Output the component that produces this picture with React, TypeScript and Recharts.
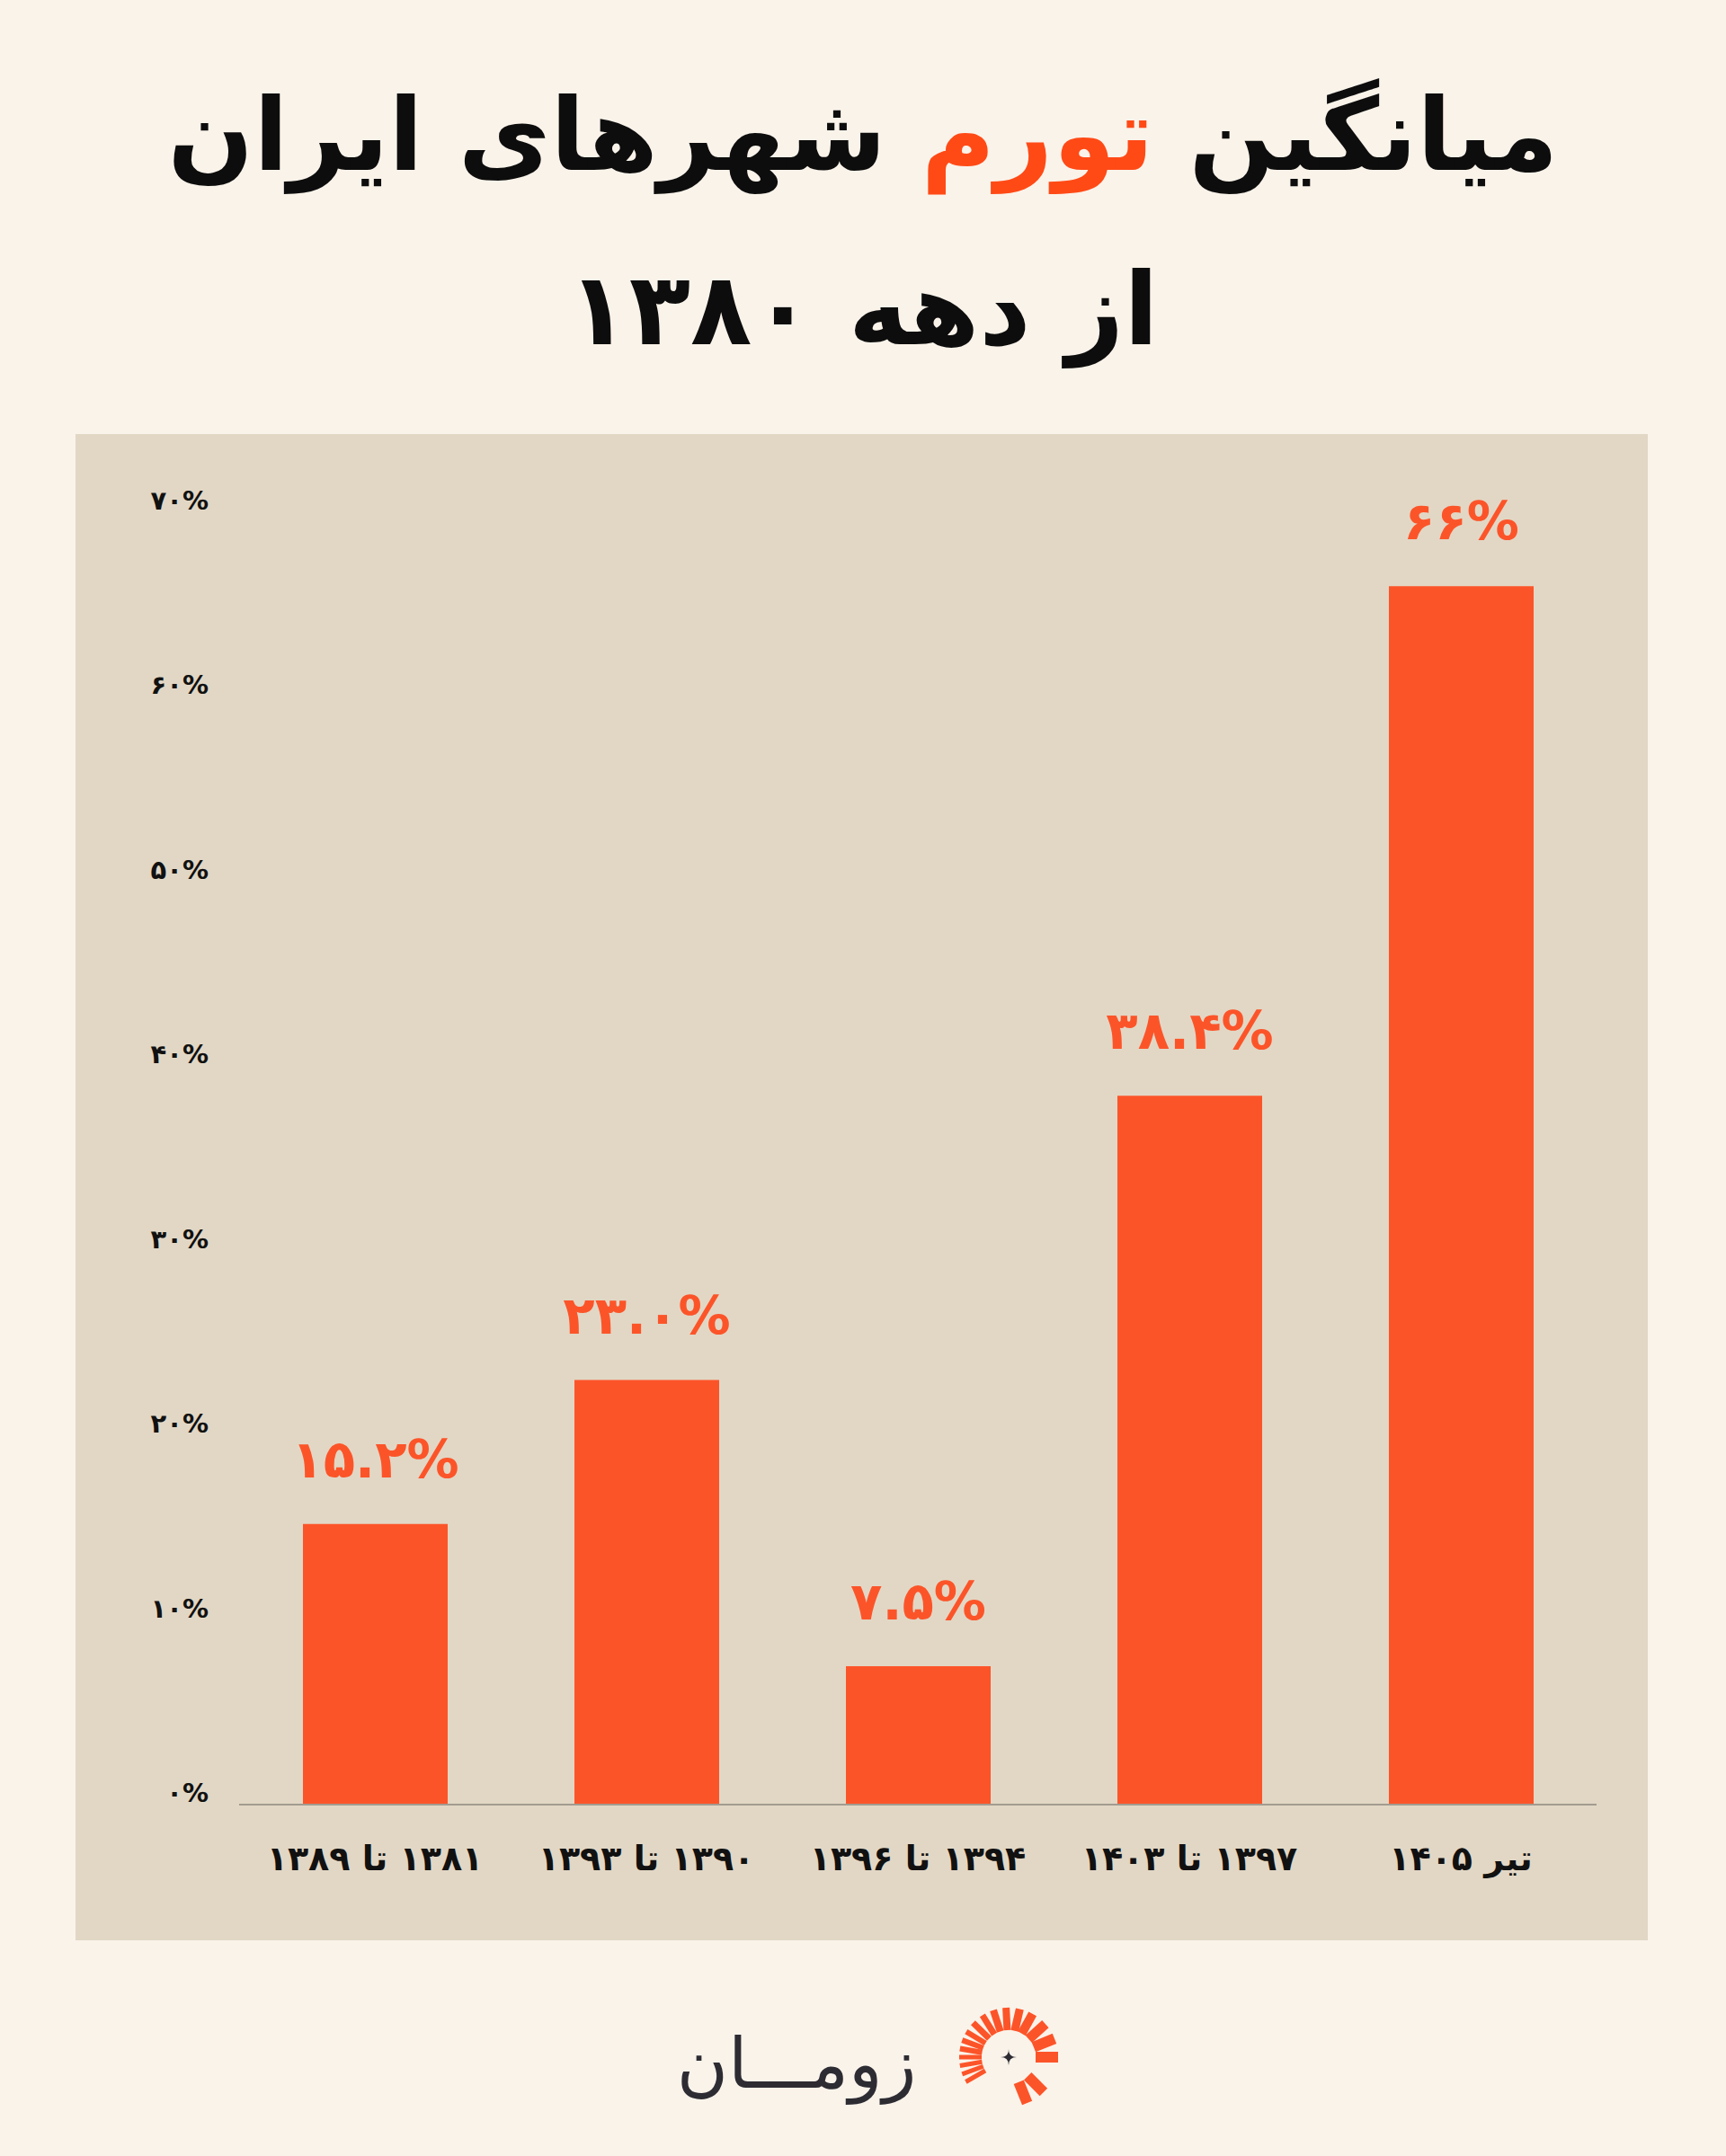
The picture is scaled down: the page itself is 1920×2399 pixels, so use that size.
import React from 'react';
import { BarChart, Bar, XAxis, YAxis, LabelList } from 'recharts';

const categories = ['۱۳۸۱ تا ۱۳۸۹', '۱۳۹۰ تا ۱۳۹۳', '۱۳۹۴ تا ۱۳۹۶', '۱۳۹۷ تا ۱۴۰۳', 'تیر ۱۴۰۵'];
const inflation = [15.2, 23.0, 7.5, 38.4, 66];
const valueLabels = ['۱۵.۲%', '۲۳.۰%', '۷.۵%', '۳۸.۴%', '۶۶%'];
const yTicks = [0, 10, 20, 30, 40, 50, 60, 70];
const yTickLabels = ['۰%', '۱۰%', '۲۰%', '۳۰%', '۴۰%', '۵۰%', '۶۰%', '۷۰%'];

const data = categories.map((c, i) => ({ category: c, value: inflation[i], label: valueLabels[i] }));

const FONT = '"DejaVu Sans", sans-serif';
const BAR = '#FC5429';
const PANEL = '#E2D7C5';
const PAGE = '#FAF3EA';

const YTick = (props: any) => {
  const { y, payload } = props;
  const idx = yTicks.indexOf(payload.value);
  return (
    <text x={232} y={y - 13} textAnchor="end" dominantBaseline="central" fontFamily={FONT} fontWeight={700} fontSize={29} fill="#111">
      {yTickLabels[idx]}
    </text>
  );
};

const XTick = (props: any) => {
  const { x, y, payload } = props;
  return (
    <text x={x} y={y + 52} textAnchor="middle" dominantBaseline="central" direction="rtl" style={{ direction: 'rtl', unicodeBidi: 'plaintext' } as any} fontFamily={FONT} fontWeight={700} fontSize={38} fill="#111">
      {payload.value}
    </text>
  );
};

const ValueLabel = (props: any) => {
  const { x, y, width, value } = props;
  return (
    <text x={x + width / 2} y={y - 72} textAnchor="middle" dominantBaseline="central" fontFamily={FONT} fontWeight={700} fontSize={58} fill={BAR}>
      {value}
    </text>
  );
};

const rays: { a: number; w: number }[] = [
  { a: 150, w: 5 }, { a: 160, w: 5 }, { a: 170, w: 5 }, { a: 180, w: 5 }, { a: 190, w: 6 }, { a: 200, w: 6 }, { a: 211, w: 6 },
  { a: 224, w: 7 }, { a: 238, w: 7 }, { a: 252, w: 8 }, { a: 267, w: 8 }, { a: 283, w: 9 }, { a: 299, w: 10 },
  { a: 318, w: 11 }, { a: 338, w: 12 }, { a: 0, w: 12 }, { a: 45, w: 12 }, { a: 68, w: 12 },
];

const Logo = () => {
  const cx = 1122;
  const cy = 2289;
  return (
    <svg width={1920} height={2399} style={{ position: 'absolute', left: 0, top: 0, pointerEvents: 'none' }}>
      <text x={886} y={2296} textAnchor="middle" dominantBaseline="central" fontFamily={FONT} fontSize={78} fill="#2D2C33" style={{ direction: 'rtl' } as any}>
        زومـــان
      </text>
      {rays.map((r, i) => {
        const t = (r.a * Math.PI) / 180;
        return (
          <line key={i} x1={cx + 30 * Math.cos(t)} y1={cy + 30 * Math.sin(t)} x2={cx + 55 * Math.cos(t)} y2={cy + 55 * Math.sin(t)} stroke={BAR} strokeWidth={r.w} />
        );
      })}
      <path d={`M${cx} ${cy - 9} Q${cx} ${cy} ${cx + 9} ${cy} Q${cx} ${cy} ${cx} ${cy + 9} Q${cx} ${cy} ${cx - 9} ${cy} Q${cx} ${cy} ${cx} ${cy - 9} Z`} fill="#2D2C33" />
    </svg>
  );
};

export default function App() {
  return (
    <div style={{ position: 'absolute', left: 0, top: 0, width: 1920, height: 2399, background: PAGE, overflow: 'hidden', fontFamily: FONT }}>
      <div style={{ position: 'absolute', left: 0, top: 80, width: 1920, height: 140, lineHeight: '140px', textAlign: 'center', direction: 'rtl', fontSize: 112, fontWeight: 900, color: '#0D0D0D', whiteSpace: 'nowrap' }}>
        میانگین <span style={{ color: '#FF4A16' }}>تورم</span> شهرهای ایران
      </div>
      <div style={{ position: 'absolute', left: 0, top: 274, width: 1920, height: 140, lineHeight: '140px', textAlign: 'center', direction: 'rtl', fontSize: 112, fontWeight: 900, color: '#0D0D0D', whiteSpace: 'nowrap' }}>
        از دهه ۱۳۸۰
      </div>
      <div style={{ position: 'absolute', left: 84, top: 483, width: 1749, height: 1676, background: PANEL }} />
      <div style={{ position: 'absolute', left: 0, top: 483 }}>
        <BarChart width={1920} height={1676} data={data} margin={{ top: 87, right: 144, bottom: 71, left: 166 }}>
          <XAxis dataKey="category" interval={0} height={80} axisLine={{ stroke: '#A39B90', strokeWidth: 2 }} tickLine={false} tick={<XTick />} />
          <YAxis type="number" domain={[0, 70]} ticks={yTicks} interval={0} width={100} axisLine={false} tickLine={false} tick={<YTick />} />
          <Bar dataKey="value" fill={BAR} barSize={161} isAnimationActive={false}>
            <LabelList dataKey="label" content={<ValueLabel />} />
          </Bar>
        </BarChart>
      </div>
      <Logo />
    </div>
  );
}
